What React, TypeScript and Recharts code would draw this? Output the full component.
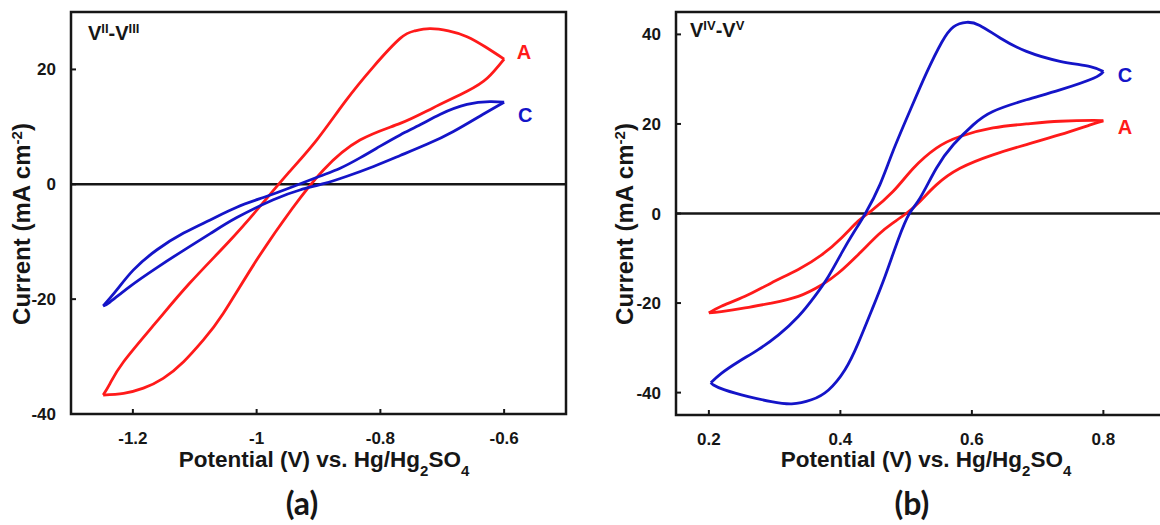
import React from 'react';
import { LineChart, Line, XAxis, YAxis, ReferenceLine, ReferenceArea, ReferenceDot } from 'recharts';

// (a) V(II)/V(III) couple: potential (V) vs current (mA cm-2), one array per sweep
const aRedUp: [number, number][] = [
  [-1.248, -36.7], [-1.215, -36.4], [-1.183, -35.5], [-1.151, -33.8], [-1.118, -30.9],
  [-1.086, -27.1], [-1.054, -22.5], [-1.0, -13.2], [-0.943, -4.3], [-0.892, 2.5],
  [-0.833, 7.7], [-0.768, 10.6], [-0.715, 13.3], [-0.66, 16.2], [-0.627, 18.5], [-0.6, 21.8],
];
const aRedDown: [number, number][] = [
  [-0.6, 21.8], [-0.63, 23.9], [-0.66, 25.7], [-0.69, 26.7], [-0.72, 27.1], [-0.745, 26.7],
  [-0.768, 25.4], [-0.811, 20.5], [-0.857, 14.4], [-0.903, 7.7], [-0.95, 1.8], [-0.995, -3.9],
  [-1.045, -10.0], [-1.108, -17.2], [-1.163, -24.1], [-1.215, -30.9], [-1.237, -34.7], [-1.248, -36.7],
];
const aBlueUp: [number, number][] = [
  [-1.248, -21.2], [-1.226, -18.4], [-1.199, -14.9], [-1.161, -11.4], [-1.118, -8.5],
  [-1.075, -6.2], [-1.032, -4.0], [-0.989, -2.3], [-0.946, -0.6], [-0.898, 1.4], [-0.865, 2.8],
  [-0.833, 4.6], [-0.801, 6.6], [-0.768, 8.6], [-0.735, 10.4], [-0.703, 12.2], [-0.66, 13.9],
  [-0.623, 14.4], [-0.6, 14.3],
];
const aBlueDown: [number, number][] = [
  [-0.6, 14.3], [-0.634, 12.2], [-0.682, 9.2], [-0.724, 7.0], [-0.768, 5.0], [-0.811, 3.1],
  [-0.854, 1.4], [-0.892, 0.1], [-0.93, -1.0], [-0.973, -2.7], [-1.032, -5.8], [-1.075, -8.6],
  [-1.118, -11.5], [-1.161, -14.5], [-1.205, -17.8], [-1.237, -20.5], [-1.248, -21.2],
];

// (b) V(IV)/V(V) couple
const bRedUp: [number, number][] = [
  [0.2, -22.2], [0.219, -20.7], [0.255, -18.5], [0.295, -15.5], [0.336, -12.5], [0.372, -9.2],
  [0.402, -5.4], [0.427, -1.7], [0.447, 0.6], [0.48, 4.9], [0.511, 10.1], [0.546, 14.6],
  [0.582, 17.2], [0.632, 19.1], [0.683, 20.0], [0.734, 20.6], [0.785, 20.8], [0.8, 20.7],
];
const bRedDown: [number, number][] = [
  [0.8, 20.7], [0.78, 19.8], [0.734, 17.6], [0.683, 15.4], [0.632, 13.1], [0.582, 10.1],
  [0.546, 6.4], [0.521, 2.7], [0.5, 0], [0.479, -2.2], [0.458, -4.7], [0.427, -9.2],
  [0.397, -13.3], [0.372, -15.9], [0.336, -18.5], [0.295, -20.0], [0.255, -21.1], [0.219, -21.9],
  [0.2, -22.2],
];
const bBlueUp: [number, number][] = [
  [0.203, -37.8], [0.219, -35.7], [0.245, -33.1], [0.275, -30.4], [0.306, -27.1], [0.336, -23.0],
  [0.361, -18.5], [0.382, -14.0], [0.402, -8.8], [0.42, -4.3], [0.438, 0], [0.46, 6.4],
  [0.48, 13.9], [0.506, 23.0], [0.531, 31.4], [0.554, 38.2], [0.572, 41.7], [0.592, 42.7],
  [0.612, 42.0], [0.643, 39.2], [0.683, 36.2], [0.734, 34.0], [0.78, 32.8], [0.8, 31.7],
];
const bBlueDown: [number, number][] = [
  [0.8, 31.7], [0.785, 30.2], [0.734, 27.6], [0.683, 25.4], [0.632, 22.8], [0.602, 19.8],
  [0.572, 15.4], [0.546, 10.1], [0.521, 3.4], [0.505, 0], [0.488, -5.8], [0.468, -14.0],
  [0.448, -21.5], [0.427, -29.0], [0.407, -34.9], [0.382, -39.4], [0.356, -41.6], [0.326, -42.5],
  [0.295, -42.0], [0.26, -40.9], [0.224, -39.4], [0.207, -38.3], [0.203, -37.8],
];

const aXTicks = [-1.2, -1, -0.8, -0.6];
const aYTicks = [-40, -20, 0, 20];
const bXTicks = [0.2, 0.4, 0.6, 0.8];
const bYTicks = [-40, -20, 0, 20, 40];

const RED = '#ff1a1a';
const BLUE = '#1414c8';
const INK = '#161616';
const SANS = '"Liberation Sans", Arial, sans-serif';

const toPts = (arr: [number, number][]) => arr.map(([x, y]) => ({ x, y }));

const tickStyle = { fill: INK, fontSize: 17, fontWeight: 700, fontFamily: SANS };

interface Tag { x: number; y: number; text: string; color: string }
interface PanelProps {
  left: number;
  width: number;
  margin: { top: number; right: number; bottom: number; left: number };
  xDomain: [number, number];
  yDomain: [number, number];
  xTicks: number[];
  yTicks: number[];
  red: [number, number][][];
  blue: [number, number][][];
  tags: Tag[];
}

const Panel = ({ left, width, margin, xDomain, yDomain, xTicks, yTicks, red, blue, tags }: PanelProps) => (
  <div style={{ position: 'absolute', left, top: 0 }}>
    <LineChart width={width} height={525} margin={margin}>
      <XAxis
        type="number" dataKey="x" domain={xDomain} ticks={xTicks} allowDataOverflow
        axisLine={false} tickSize={-5} tickMargin={23} height={30}
        tick={tickStyle} tickLine={{ stroke: INK, strokeWidth: 2 }}
      />
      <YAxis
        type="number" dataKey="y" domain={yDomain} ticks={yTicks} allowDataOverflow
        axisLine={false} tickSize={-5} tickMargin={20} width={50}
        tick={tickStyle} tickLine={{ stroke: INK, strokeWidth: 2 }}
      />
      <ReferenceLine y={0} stroke={INK} strokeWidth={2.5} />
      <ReferenceArea
        x1={xDomain[0]} x2={xDomain[1]} y1={yDomain[0]} y2={yDomain[1]}
        fill="none" fillOpacity={0} stroke={INK} strokeWidth={2.5} strokeOpacity={1}
      />
      {red.map((sweep, i) => (
        <Line key={'r' + i} data={toPts(sweep)} dataKey="y" type="natural" stroke={RED} strokeWidth={2.8} dot={false} isAnimationActive={false} />
      ))}
      {blue.map((sweep, i) => (
        <Line key={'b' + i} data={toPts(sweep)} dataKey="y" type="natural" stroke={BLUE} strokeWidth={2.8} dot={false} isAnimationActive={false} />
      ))}
      {tags.map((t) => (
        <ReferenceDot
          key={t.text} x={t.x} y={t.y} r={0} fill="none" stroke="none" ifOverflow="visible"
          label={{ value: t.text, position: 'center', fill: t.color, fontSize: 20, fontWeight: 700, fontFamily: SANS }}
        />
      ))}
    </LineChart>
  </div>
);

export default function App() {
  const title = { fontFamily: SANS, fontWeight: 700, fill: INK };
  return (
    <div style={{ position: 'absolute', left: 0, top: 0, width: 1160, height: 525, overflow: 'hidden', background: '#fff' }}>
      <Panel
        left={0} width={600}
        margin={{ top: 12, right: 34, bottom: 81, left: 21 }}
        xDomain={[-1.3, -0.5]} yDomain={[-40, 30]}
        xTicks={aXTicks} yTicks={aYTicks}
        red={[aRedUp, aRedDown]} blue={[aBlueUp, aBlueDown]}
        tags={[
          { x: -0.568, y: 23.0, text: 'A', color: RED },
          { x: -0.566, y: 12.1, text: 'C', color: BLUE },
        ]}
      />
      <Panel
        left={580} width={640}
        margin={{ top: 12, right: 18, bottom: 80, left: 46 }}
        xDomain={[0.15, 0.95]} yDomain={[-45, 45]}
        xTicks={bXTicks} yTicks={bYTicks}
        red={[bRedUp, bRedDown]} blue={[bBlueUp, bBlueDown]}
        tags={[
          { x: 0.833, y: 30.9, text: 'C', color: BLUE },
          { x: 0.833, y: 19.3, text: 'A', color: RED },
        ]}
      />
      <svg width={1160} height={525} style={{ position: 'absolute', left: 0, top: 0, pointerEvents: 'none' }}>
        <text x={88} y={40} fontSize={20} {...title}>
          V<tspan fontSize={13} baselineShift="super">II</tspan>-V<tspan fontSize={13} baselineShift="super">III</tspan>
        </text>
        <text x={690} y={37} fontSize={20} {...title}>
          V<tspan fontSize={13} baselineShift="super">IV</tspan>-V<tspan fontSize={13} baselineShift="super">V</tspan>
        </text>
        <text transform="translate(30,224) rotate(-90)" textAnchor="middle" fontSize={24} {...title}>
          Current (mA cm<tspan fontSize={15} baselineShift="super">-2</tspan>)
        </text>
        <text transform="translate(633,224) rotate(-90)" textAnchor="middle" fontSize={24} {...title}>
          Current (mA cm<tspan fontSize={15} baselineShift="super">-2</tspan>)
        </text>
        <text x={324} y={467} textAnchor="middle" fontSize={22.5} {...title}>
          Potential (V) vs. Hg/Hg<tspan fontSize={15} baselineShift="sub">2</tspan>SO<tspan fontSize={15} baselineShift="sub">4</tspan>
        </text>
        <text x={926} y={467} textAnchor="middle" fontSize={22.5} {...title}>
          Potential (V) vs. Hg/Hg<tspan fontSize={15} baselineShift="sub">2</tspan>SO<tspan fontSize={15} baselineShift="sub">4</tspan>
        </text>
        <text x={302} y={515} textAnchor="middle" fontSize={32} fontFamily="Lato, sans-serif" fontWeight={700} fill={INK}>(a)</text>
        <text x={912} y={515} textAnchor="middle" fontSize={32} fontFamily="Lato, sans-serif" fontWeight={700} fill={INK}>(b)</text>
      </svg>
    </div>
  );
}
